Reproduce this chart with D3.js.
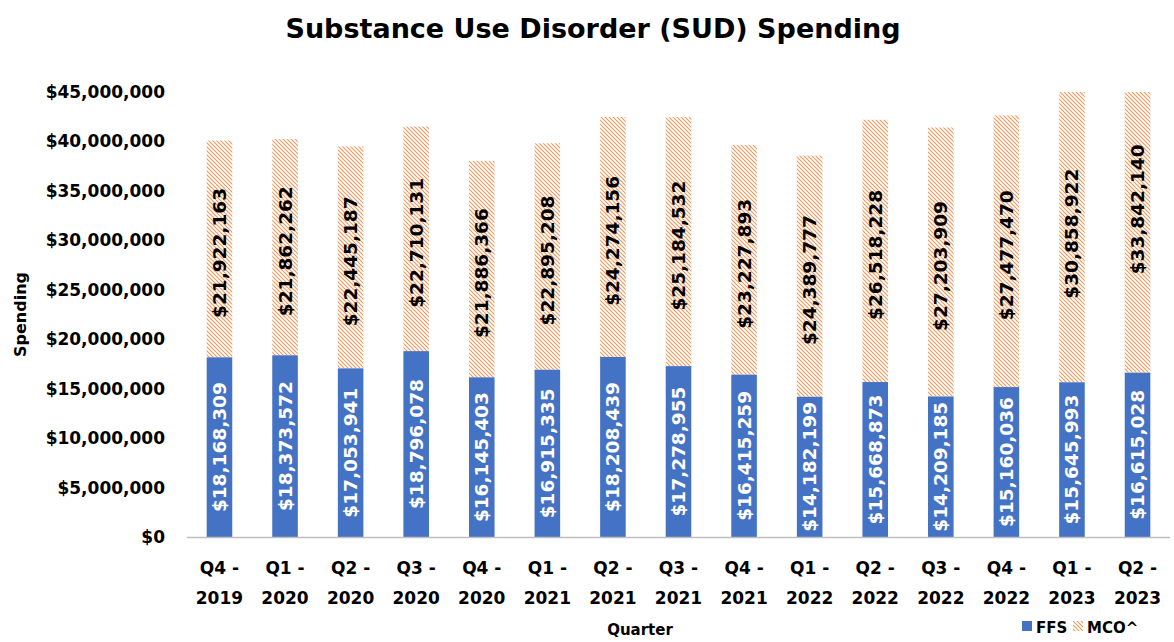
<!DOCTYPE html>
<html><head><meta charset="utf-8">
<script src="https://cdn.jsdelivr.net/npm/d3@7"></script>
<style>body{margin:0;background:#fff}svg{display:block}text{font-family:"DejaVu Sans",sans-serif;font-weight:700;fill:#000}</style>
</head><body>
<svg id="c" width="1174" height="642"></svg>
<script>
const categories=["Q4 - 2019","Q1 - 2020","Q2 - 2020","Q3 - 2020","Q4 - 2020","Q1 - 2021","Q2 - 2021","Q3 - 2021","Q4 - 2021","Q1 - 2022","Q2 - 2022","Q3 - 2022","Q4 - 2022","Q1 - 2023","Q2 - 2023"];
const ffs=[18168309,18373572,17053941,18796078,16145403,16915335,18208439,17278955,16415259,14182199,15668873,14209185,15160036,15645993,16615028];
const mco=[21922163,21862262,22445187,22710131,21886366,22895208,24274156,25184532,23227893,24389777,26518228,27203909,27477470,30858922,33842140];
const yTicks=[0,5000000,10000000,15000000,20000000,25000000,30000000,35000000,40000000,45000000];
const seriesNames=["FFS","MCO^"];

const svg=d3.select("#c");
const m={l:187,r:4,t:92,b:105};
const W=1174,H=642;
const x=d3.scaleBand().domain(categories).range([m.l,W-m.r]).paddingInner(0.61).paddingOuter(0.3);
const y=d3.scaleLinear().domain([0,45000000]).range([H-m.b,m.t]);
const fmt=v=>"$"+d3.format(",")(v);
const F='"DejaVu Sans",sans-serif';

const defs=svg.append("defs");
const pat=defs.append("pattern").attr("id","hatch").attr("patternUnits","userSpaceOnUse").attr("width",4).attr("height",4);
pat.append("rect").attr("width",4).attr("height",4).attr("fill","#fff");
pat.append("path").attr("d","M-1,-1 L5,5 M-1,3 L1,5 M3,-1 L5,1").attr("stroke","#ED7D31").attr("stroke-width",1.1).attr("stroke-opacity",0.8);
defs.append("clipPath").attr("id","clip").append("rect").attr("x",m.l).attr("y",m.t).attr("width",W-m.l-m.r).attr("height",H-m.b-m.t);

svg.append("text").attr("x",593).attr("y",38).attr("text-anchor","middle").style("font-size","27px").text("Substance Use Disorder (SUD) Spending");

// y axis
const ya=svg.append("g").attr("transform",`translate(${m.l},0)`).call(d3.axisLeft(y).tickValues(yTicks).tickFormat(fmt).tickSize(0).tickPadding(22));
ya.select(".domain").remove();
ya.selectAll("text").style("font-size","17px").style("font-family",F).style("font-weight","700").attr("fill","#000");

svg.append("text").attr("transform",`translate(26,${(m.t+H-m.b)/2}) rotate(-90)`).attr("text-anchor","middle").style("font-size","16px").text("Spending");

const data=categories.map((c,i)=>({c,f:ffs[i],mv:mco[i]}));
const g=svg.append("g").attr("clip-path","url(#clip)");
g.selectAll(".mco").data(data).join("rect").attr("x",d=>x(d.c)).attr("width",x.bandwidth()).attr("y",d=>y(d.f+d.mv)).attr("height",d=>y(d.f)-y(d.f+d.mv)).attr("fill","url(#hatch)");
g.selectAll(".ffs").data(data).join("rect").attr("x",d=>x(d.c)).attr("width",x.bandwidth()).attr("y",d=>y(d.f)).attr("height",d=>y(0)-y(d.f)).attr("fill","#4472C4");

// labels
svg.selectAll(".lf").data(data).join("text").attr("transform",d=>`translate(${x(d.c)+x.bandwidth()/2+6.5},${y(d.f/2)}) rotate(-90)`).attr("text-anchor","middle").style("font-size","18.5px").style("fill","#fff").text(d=>fmt(d.f));
svg.selectAll(".lm").data(data).join("text").attr("transform",d=>`translate(${x(d.c)+x.bandwidth()/2+6.5},${y(d.f+d.mv/2)+4}) rotate(-90)`).attr("text-anchor","middle").style("font-size","18.5px").style("fill","#000").text(d=>fmt(d.mv));

// x axis
svg.append("line").attr("x1",m.l).attr("x2",W-m.r).attr("y1",y(0)+0.5).attr("y2",y(0)+0.5).attr("stroke","#bfbfbf").attr("stroke-width",1.5);
const xl=svg.selectAll(".xl").data(categories).join("text").attr("text-anchor","middle").style("font-size","17px");
xl.append("tspan").attr("x",d=>x(d)+x.bandwidth()/2).attr("y",y(0)+37).text(d=>d.split(" - ")[0]+" -");
xl.append("tspan").attr("x",d=>x(d)+x.bandwidth()/2).attr("y",y(0)+67).text(d=>d.split(" - ")[1]);

svg.append("text").attr("x",640).attr("y",635).attr("text-anchor","middle").style("font-size","15px").text("Quarter");

// legend
const lg=svg.append("g");
const lx=[1022,1073];
lg.selectAll("rect").data(seriesNames).join("rect").attr("x",(d,i)=>lx[i]).attr("y",621).attr("width",10).attr("height",10).attr("fill",(d,i)=>i?"url(#hatch)":"#4472C4");
lg.selectAll("text").data(seriesNames).join("text").attr("x",(d,i)=>lx[i]+14).attr("y",633).style("font-size","15px").text(d=>d);
</script>
</body></html>
